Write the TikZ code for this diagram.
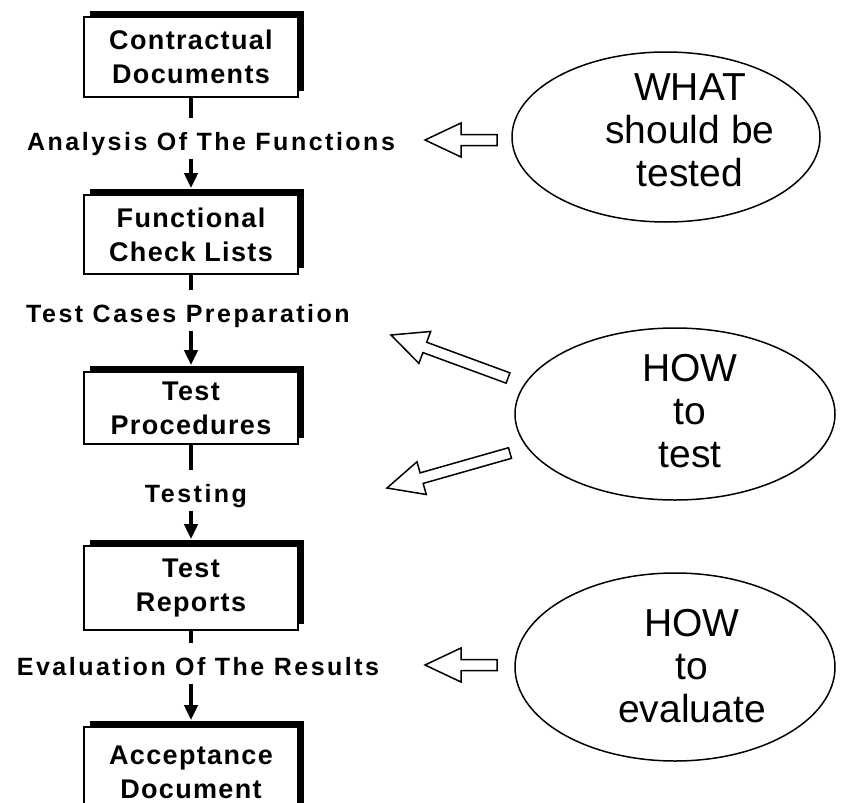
\documentclass[tikz,border=0pt]{standalone}
\usepackage{fontspec}
\setmainfont{Liberation Sans}
\newfontfamily\boxsans[LetterSpace=5]{Liberation Sans}
\newfontfamily\labsans[LetterSpace=10]{Liberation Sans}
\usetikzlibrary{shapes.geometric,shadows,arrows.meta,calc}

% hollow block arrow from a tail point to a tip point
\newcommand\hollowpointer[2]{%
  \draw[hollow] (#1)
    -- ($(#1)!36pt!(#2)!17pt!90:(#2)$)
    -- ($(#1)!36pt!(#2)!5.5pt!90:(#2)$)
    -- ($(#2)!5.5pt!-90:(#1)$)
    -- ($(#2)!5.5pt!90:(#1)$)
    -- ($(#1)!36pt!(#2)!5.5pt!-90:(#2)$)
    -- ($(#1)!36pt!(#2)!17pt!-90:(#2)$)
    -- cycle;}

\begin{document}
\begin{tikzpicture}[x=1pt,y=-1pt,
  stepbox/.style={draw, line width=1.6pt, fill=white, minimum width=214pt,
    inner sep=0pt, align=center,
    font=\fontsize{27}{34}\selectfont\boxsans\bfseries,
    drop shadow={shadow xshift=6pt, shadow yshift=6pt, opacity=1, fill=black}},
  lab/.style={inner xsep=2pt, inner ysep=0pt, text height=32pt, text depth=9pt,
    anchor=base, font=\fontsize{25}{28}\selectfont\labsans\bfseries},
  stub/.style={line width=4.5pt},
  conn/.style={line width=4pt, -{Triangle[length=15pt,width=13pt]}},
  oval/.style={ellipse, draw, line width=1.5pt, inner sep=0pt},
  ovaltext/.style={align=center, font=\fontsize{39}{43}\selectfont},
  hollow/.style={draw, line width=1.5pt, fill=white, line join=miter}]

\useasboundingbox (0,0) rectangle (849,803);

% document boxes
\node[stepbox, minimum height=80pt] (b1) at (191,57) {Contractual\\Documents};
\node[stepbox, minimum height=79pt] (b2) at (191,234.5) {Functional\\Check Lists};
\node[stepbox, minimum height=72pt] (b3) at (191,408) {Test\\Procedures};
\node[stepbox, minimum height=84pt] (b4) at (191,588) {Test\\Reports};
\node[stepbox, minimum height=90pt] (b5) at (191,772) {Acceptance\\Document};

% activity labels between the boxes
\node[lab] (l1) at (211,150) {Analysis Of The Functions};
\node[lab] (l2) at (188,322) {Test Cases Preparation};
\node[lab] (l3) at (196,502) {Testing};
\node[lab] (l4) at (198,675) {Evaluation Of The Results};

% flow connectors
\draw[stub] (b1.south) -- (b1.south |- l1.north);
\draw[conn] (b1.south |- l1.south) -- ([yshift=6pt]b2.north);
\draw[stub] (b2.south) -- (b2.south |- l2.north);
\draw[conn] (b2.south |- l2.south) -- ([yshift=6pt]b3.north);
\draw[stub] (b3.south) -- (b3.south |- l3.north);
\draw[conn] (b3.south |- l3.south) -- ([yshift=6pt]b4.north);
\draw[stub] (b4.south) -- (b4.south |- l4.north);
\draw[conn] (b4.south |- l4.south) -- ([yshift=6pt]b5.north);

% question ellipses
\node[oval, minimum width=308pt, minimum height=170pt] (e1) at (666,137) {};
\node[ovaltext] (t1) at (690,130) {WHAT\\should be\\tested};
\node[oval, minimum width=320pt, minimum height=172pt] (e2) at (675,414) {};
\node[ovaltext] (t2) at (690,411) {HOW\\to\\test};
\node[oval, minimum width=320pt, minimum height=188pt] (e3) at (675,667) {};
\node[ovaltext] (t3) at (692,666) {HOW\\to\\evaluate};

% hollow pointers from the ellipses to the activities
\coordinate (p1tip) at (425,140);  \coordinate (p1tail) at (497,140);
\coordinate (p2tip) at (391,335);  \coordinate (p2tail) at (508,378);
\coordinate (p3tip) at (387,488);  \coordinate (p3tail) at (510,453);
\coordinate (p4tip) at (425,665);  \coordinate (p4tail) at (497,665);
\hollowpointer{p1tip}{p1tail}
\hollowpointer{p2tip}{p2tail}
\hollowpointer{p3tip}{p3tail}
\hollowpointer{p4tip}{p4tail}
\end{tikzpicture}
\end{document}
